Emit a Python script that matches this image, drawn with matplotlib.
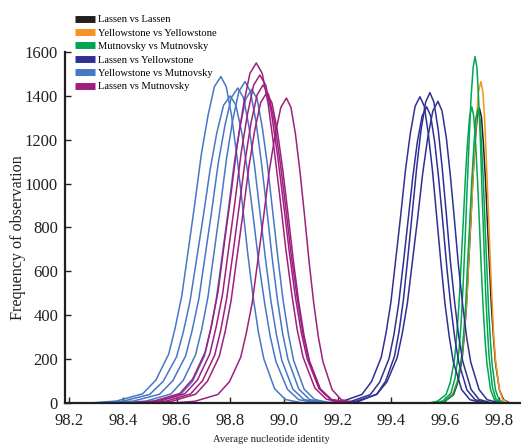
import matplotlib
matplotlib.use("Agg")
import matplotlib.pyplot as plt
from matplotlib.lines import Line2D

plt.rcParams['font.family'] = ['Liberation Serif', 'DejaVu Serif']

# ---------------- data ----------------
labels = ["Lassen vs Lassen", "Yellowstone vs Yellowstone", "Mutnovsky vs Mutnovsky",
          "Lassen vs Yellowstone", "Yellowstone vs Mutnovsky", "Lassen vs Mutnovsky"]
colors = ["#231f20", "#f7931e", "#00a651", "#2e3192", "#4677c4", "#9e1f7e"]

xticks = [98.2, 98.4, 98.6, 98.8, 99.0, 99.2, 99.4, 99.6, 99.8]
yticks = [0, 200, 400, 600, 800, 1000, 1200, 1400, 1600]

# Lassen vs Lassen
black_x = [[99.567, 99.599, 99.631, 99.647, 99.663, 99.671, 99.679, 99.687, 99.695, 99.703, 99.711, 99.719,
            99.727, 99.735, 99.742, 99.750, 99.757, 99.765, 99.772, 99.780, 99.787, 99.802, 99.817, 99.841]]
black_y = [[0, 8, 38, 94, 202, 309, 444, 632, 820, 1022, 1184, 1303,
            1345, 1303, 1184, 1015, 820, 616, 437, 291, 182, 59, 15, 0]]

# Yellowstone vs Yellowstone
orange_x = [[99.558, 99.593, 99.628, 99.646, 99.663, 99.672, 99.681, 99.689, 99.698, 99.707, 99.716, 99.724,
             99.733, 99.740, 99.747, 99.753, 99.760, 99.767, 99.774, 99.780, 99.787, 99.801, 99.814, 99.836]]
orange_y = [[0, 9, 41, 103, 220, 337, 483, 689, 894, 1113, 1289, 1420,
             1465, 1420, 1289, 1106, 894, 671, 476, 316, 198, 64, 16, 0]]

# Mutnovsky vs Mutnovsky
green_x = [
    [99.561, 99.591, 99.621, 99.636, 99.651, 99.659, 99.666, 99.674, 99.681, 99.689, 99.696, 99.704,
     99.711, 99.718, 99.724, 99.731, 99.737, 99.744, 99.750, 99.757, 99.763, 99.776, 99.789, 99.810],
    [99.539, 99.571, 99.603, 99.619, 99.635, 99.643, 99.651, 99.659, 99.667, 99.675, 99.683, 99.691,
     99.699, 99.706, 99.713, 99.720, 99.727, 99.734, 99.741, 99.748, 99.755, 99.769, 99.783, 99.805],
    [99.567, 99.598, 99.629, 99.645, 99.660, 99.668, 99.676, 99.683, 99.691, 99.699, 99.707, 99.714,
     99.722, 99.729, 99.735, 99.742, 99.748, 99.755, 99.761, 99.768, 99.774, 99.787, 99.800, 99.821],
]
green_y = [
    [0, 9, 44, 111, 237, 363, 521, 742, 963, 1200, 1390, 1530,
     1579, 1530, 1390, 1192, 963, 723, 513, 341, 213, 69, 17, 0],
    [0, 8, 38, 95, 203, 311, 446, 635, 824, 1026, 1188, 1308,
     1350, 1308, 1188, 1019, 824, 618, 439, 292, 182, 59, 15, 0],
    [0, 8, 38, 94, 201, 308, 442, 630, 817, 1018, 1179, 1298,
     1340, 1298, 1179, 1012, 817, 614, 436, 289, 181, 59, 15, 0],
]

# Lassen vs Yellowstone
dblue_x = [
    [99.146, 99.218, 99.290, 99.326, 99.362, 99.380, 99.398, 99.416, 99.434, 99.452, 99.470, 99.488,
     99.506, 99.522, 99.537, 99.553, 99.568, 99.584, 99.599, 99.615, 99.630, 99.661, 99.692, 99.742],
    [99.181, 99.251, 99.321, 99.356, 99.391, 99.409, 99.426, 99.444, 99.461, 99.479, 99.496, 99.514,
     99.531, 99.546, 99.561, 99.576, 99.591, 99.606, 99.621, 99.636, 99.651, 99.681, 99.711, 99.759],
    [99.213, 99.279, 99.345, 99.378, 99.411, 99.428, 99.444, 99.461, 99.477, 99.494, 99.510, 99.527,
     99.543, 99.558, 99.574, 99.589, 99.604, 99.619, 99.635, 99.650, 99.665, 99.696, 99.726, 99.775],
    [99.193, 99.269, 99.345, 99.383, 99.421, 99.440, 99.459, 99.478, 99.497, 99.516, 99.535, 99.554,
     99.573, 99.588, 99.604, 99.619, 99.634, 99.649, 99.665, 99.680, 99.695, 99.726, 99.756, 99.805],
]
dblue_y = [
    [0, 8, 39, 98, 209, 321, 461, 656, 852, 1061, 1228, 1353,
     1396, 1353, 1228, 1054, 852, 639, 454, 302, 188, 61, 15, 0],
    [0, 8, 38, 95, 203, 311, 446, 635, 824, 1026, 1188, 1308,
     1350, 1308, 1188, 1019, 824, 618, 439, 292, 182, 59, 15, 0],
    [0, 8, 40, 99, 212, 325, 467, 665, 863, 1075, 1245, 1371,
     1415, 1371, 1245, 1068, 863, 648, 460, 306, 191, 62, 16, 0],
    [0, 8, 39, 96, 206, 316, 454, 646, 839, 1045, 1210, 1332,
     1375, 1332, 1210, 1038, 839, 630, 447, 297, 186, 61, 15, 0],
]

# Yellowstone vs Mutnovsky
lblue_x = [
    [98.280, 98.377, 98.474, 98.523, 98.571, 98.595, 98.620, 98.644, 98.668, 98.692, 98.717, 98.741,
     98.765, 98.785, 98.805, 98.825, 98.845, 98.865, 98.885, 98.905, 98.925, 98.965, 99.005, 99.069],
    [98.300, 98.400, 98.500, 98.550, 98.600, 98.625, 98.650, 98.675, 98.700, 98.725, 98.750, 98.775,
     98.800, 98.821, 98.843, 98.864, 98.885, 98.906, 98.928, 98.949, 98.970, 99.013, 99.055, 99.123],
    [98.343, 98.440, 98.537, 98.586, 98.634, 98.658, 98.683, 98.707, 98.731, 98.755, 98.780, 98.804,
     98.828, 98.849, 98.869, 98.890, 98.910, 98.931, 98.951, 98.972, 98.992, 99.033, 99.074, 99.140],
    [98.395, 98.487, 98.579, 98.625, 98.671, 98.694, 98.717, 98.740, 98.763, 98.786, 98.809, 98.832,
     98.855, 98.875, 98.895, 98.915, 98.935, 98.955, 98.975, 98.995, 99.015, 99.055, 99.095, 99.159],
    [98.440, 98.528, 98.616, 98.660, 98.704, 98.726, 98.748, 98.770, 98.792, 98.814, 98.836, 98.858,
     98.880, 98.900, 98.919, 98.939, 98.958, 98.978, 98.997, 99.017, 99.036, 99.075, 99.114, 99.176],
]
lblue_y = [
    [0, 9, 42, 104, 223, 342, 491, 699, 908, 1131, 1309, 1442,
     1488, 1442, 1309, 1123, 908, 682, 484, 321, 201, 65, 16, 0],
    [0, 8, 39, 98, 210, 322, 462, 658, 854, 1064, 1232, 1357,
     1400, 1357, 1232, 1057, 854, 641, 455, 302, 189, 62, 15, 0],
    [0, 9, 40, 101, 215, 330, 474, 675, 876, 1091, 1264, 1392,
     1436, 1392, 1264, 1084, 876, 658, 467, 310, 194, 63, 16, 0],
    [0, 9, 41, 103, 220, 337, 483, 689, 894, 1113, 1289, 1420,
     1465, 1420, 1289, 1106, 894, 671, 476, 316, 198, 64, 16, 0],
    [0, 9, 40, 100, 215, 329, 472, 672, 872, 1087, 1258, 1386,
     1430, 1386, 1258, 1080, 872, 655, 465, 309, 193, 63, 16, 0],
]

# Lassen vs Mutnovsky
pink_x = [
    [98.422, 98.517, 98.612, 98.660, 98.707, 98.731, 98.755, 98.778, 98.802, 98.826, 98.850, 98.873,
     98.897, 98.919, 98.941, 98.962, 98.984, 99.006, 99.028, 99.049, 99.071, 99.115, 99.158, 99.228],
    [98.445, 98.538, 98.631, 98.678, 98.724, 98.747, 98.771, 98.794, 98.817, 98.840, 98.864, 98.887,
     98.910, 98.932, 98.954, 98.976, 98.998, 99.020, 99.042, 99.064, 99.086, 99.130, 99.174, 99.244],
    [98.495, 98.583, 98.671, 98.715, 98.759, 98.781, 98.803, 98.825, 98.847, 98.869, 98.891, 98.913,
     98.935, 98.955, 98.975, 98.995, 99.015, 99.035, 99.055, 99.075, 99.095, 99.135, 99.175, 99.239],
    [98.472, 98.562, 98.652, 98.697, 98.742, 98.765, 98.787, 98.810, 98.832, 98.855, 98.877, 98.900,
     98.922, 98.943, 98.965, 98.986, 99.007, 99.028, 99.050, 99.071, 99.092, 99.135, 99.177, 99.245],
    [98.584, 98.669, 98.754, 98.797, 98.839, 98.860, 98.882, 98.903, 98.924, 98.945, 98.967, 98.988,
     99.009, 99.026, 99.043, 99.060, 99.077, 99.094, 99.111, 99.128, 99.145, 99.179, 99.213, 99.267],
]
pink_y = [
    [0, 9, 43, 109, 233, 357, 512, 729, 946, 1178, 1364, 1502,
     1550, 1502, 1364, 1170, 946, 710, 504, 335, 209, 68, 17, 0],
    [0, 9, 42, 105, 224, 344, 493, 703, 912, 1136, 1316, 1449,
     1495, 1449, 1316, 1129, 912, 685, 486, 323, 202, 66, 16, 0],
    [0, 8, 40, 99, 212, 325, 466, 664, 862, 1074, 1243, 1369,
     1413, 1369, 1243, 1067, 862, 647, 459, 305, 191, 62, 16, 0],
    [0, 9, 41, 102, 218, 334, 479, 682, 885, 1102, 1276, 1405,
     1450, 1405, 1276, 1095, 885, 664, 471, 313, 196, 64, 16, 0],
    [0, 8, 39, 97, 209, 320, 459, 653, 848, 1056, 1223, 1347,
     1390, 1347, 1223, 1049, 848, 637, 452, 300, 188, 61, 15, 0],
]

groups = [(black_x, black_y), (orange_x, orange_y), (green_x, green_y),
          (dblue_x, dblue_y), (lblue_x, lblue_y), (pink_x, pink_y)]

# ---------------- figure ----------------
W, H = 521, 446
fig = plt.figure(figsize=(W / 100, H / 100), dpi=100)
ax = fig.add_axes([65 / W, (H - 403) / H, (W - 65) / W, (403 - 52) / H])

for (gx, gy), col in zip(groups, colors):
    for xs, ys in zip(gx, gy):
        ax.plot(xs, ys, color=col, lw=1.1, solid_joinstyle='round', clip_on=False)

ax.set_xlim(98.185, 99.882)
ax.set_ylim(0, 1600)
ax.set_xticks(xticks)
ax.set_xticklabels([f"{v:.1f}" for v in xticks])
ax.set_yticks(yticks)
ax.set_yticklabels([str(v) for v in yticks])

for s in ['top', 'right']:
    ax.spines[s].set_visible(False)
for s in ['left', 'bottom']:
    ax.spines[s].set_linewidth(1.6)
    ax.spines[s].set_color('#231f20')
ax.spines['left'].set_bounds(0, 1600)

ax.tick_params(axis='both', direction='in', length=4.5, width=1.0, colors='#231f20',
               labelsize=12, labelcolor='#231f20')
ax.tick_params(axis='x', pad=7)
ax.tick_params(axis='y', pad=5)

fig.text(271.5 / W, (H - 440) / H, "Average nucleotide identity", ha='center', va='center',
         fontsize=7.6, color='#231f20')
fig.text(18 / W, (H - 237.5) / H, "Frequency of observation", ha='center', va='center',
         rotation=90, fontsize=11.6, color='#231f20')

handles = [Line2D([0], [0], color=c, lw=5, solid_capstyle='butt') for c in colors]
fig.legend(handles, labels, loc='upper left', bbox_to_anchor=(75 / W, 1 - 15 / H),
           bbox_transform=fig.transFigure, frameon=False, fontsize=7.6,
           borderaxespad=0, borderpad=0, handlelength=1.9, handletextpad=0.3,
           labelspacing=0.38)

fig.savefig("out.png", dpi=100)
